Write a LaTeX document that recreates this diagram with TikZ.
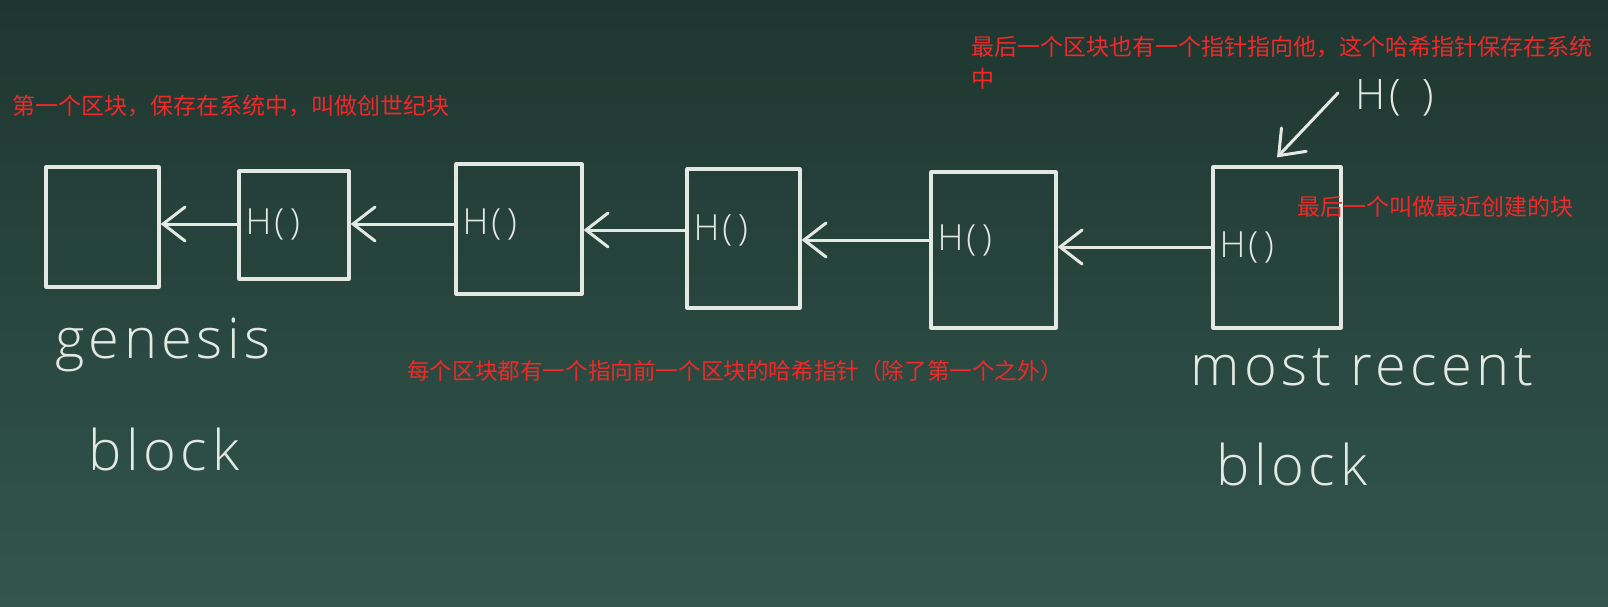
\documentclass[tikz,border=0pt]{standalone}
\usepackage{fontspec}
\setsansfont{Open Sans}
\newfontfamily\chalkfont{Open Sans Light}[LetterSpace=8]
\newfontfamily\cjkfont{Noto Sans CJK SC}
\usetikzlibrary{arrows.meta,positioning}
\definecolor{boardtop}{RGB}{30,54,47}
\definecolor{boardbot}{RGB}{50,86,76}
\definecolor{chalk}{RGB}{228,232,226}
\definecolor{notered}{RGB}{242,40,40}

\begin{document}
\begin{tikzpicture}[x=1pt, y=-1pt,
    blockbox/.style args={#1 by #2}{draw=chalk, line width=3.2pt, line join=round,
      minimum width=#1pt, minimum height=#2pt, inner sep=0pt},
    hashtxt/.style={font=\chalkfont\fontsize{36}{40}\selectfont, text=chalk,
      anchor=west, inner xsep=8pt, inner ysep=0pt},
    chainarrow/.style={draw=chalk, line width=3pt, line cap=round,
      -{Straight Barb[length=22pt, width=34pt, line cap=round]}},
    chalkword/.style={font=\chalkfont\fontsize{56}{60}\selectfont, text=chalk,
      inner sep=0pt, anchor=base},
    notetxt/.style={font=\cjkfont\fontsize{23}{32}\selectfont, text=notered,
      inner sep=0pt, anchor=west, align=left},
  ]
  % chalkboard
  \shade[top color=boardtop, bottom color=boardbot] (0,0) rectangle (1608,607);
  \useasboundingbox (0,0) rectangle (1608,607);

  % the chain of blocks
  \node[blockbox=113 by 120] (b1) at (102.5,227) {};
  \node[blockbox=110 by 108] (b2) at (294,225) {};
  \node[blockbox=126 by 130] (b3) at (519,229) {};
  \node[blockbox=113 by 139] (b4) at (743.5,238.5) {};
  \node[blockbox=125 by 156] (b5) at (993.5,250) {};
  \node[blockbox=128 by 161] (b6) at (1277,247.5) {};

  % hash pointers inside the blocks
  \node[hashtxt] (h2) at (b2.west |- 0,224) {H(\,)};
  \node[hashtxt] (h3) at (b3.west |- 0,224) {H(\,)};
  \node[hashtxt] (h4) at (b4.west |- 0,230) {H(\,)};
  \node[hashtxt] (h5) at (b5.west |- 0,240) {H(\,)};
  \node[hashtxt] (h6) at (b6.west |- 0,247) {H(\,)};

  \draw[chainarrow] (h2.west) -- (b1.east |- h2.west);
  \draw[chainarrow] (h3.west) -- (b2.east |- h3.west);
  \draw[chainarrow] (h4.west) -- (b3.east |- h4.west);
  \draw[chainarrow] (h5.west) -- (b4.east |- h5.west);
  \draw[chainarrow] (h6.west) -- (b5.east |- h6.west);

  % pointer to the head
  \node[hashtxt, anchor=center, font=\chalkfont\fontsize{42}{46}\selectfont]
    (htop) at (1395,98) {H(\hspace{22pt})};
  \coordinate (ptail) at (1338,93);
  \draw[chainarrow] (ptail) -- ([yshift=8pt]b6.north);

  % chalk words
  \node[chalkword] (gen) at (163,358) {genesis};
  \node[chalkword] (genblk) at (164,470) {block};
  \node[chalkword] (recent) at (1362,385) {most recent};
  \node[chalkword] (recblk) at (1292,485) {block};

  % red notes
  \node[notetxt] (ngen) at (12,106) {第一个区块，保存在系统中，叫做创世纪块};
  \node[notetxt] (nhead) at (971,63)
    {最后一个区块也有一个指针指向他，这个哈希指针保存在系统\\中};
  \node[notetxt] (nlast) at (1297,207) {最后一个叫做最近创建的块};
  \node[notetxt, font=\cjkfont\fontsize{22.6}{28}\selectfont] (nall) at (407,371)
    {每个区块都有一个指向前一个区块的哈希指针（除了第一个之外）};
\end{tikzpicture}
\end{document}
